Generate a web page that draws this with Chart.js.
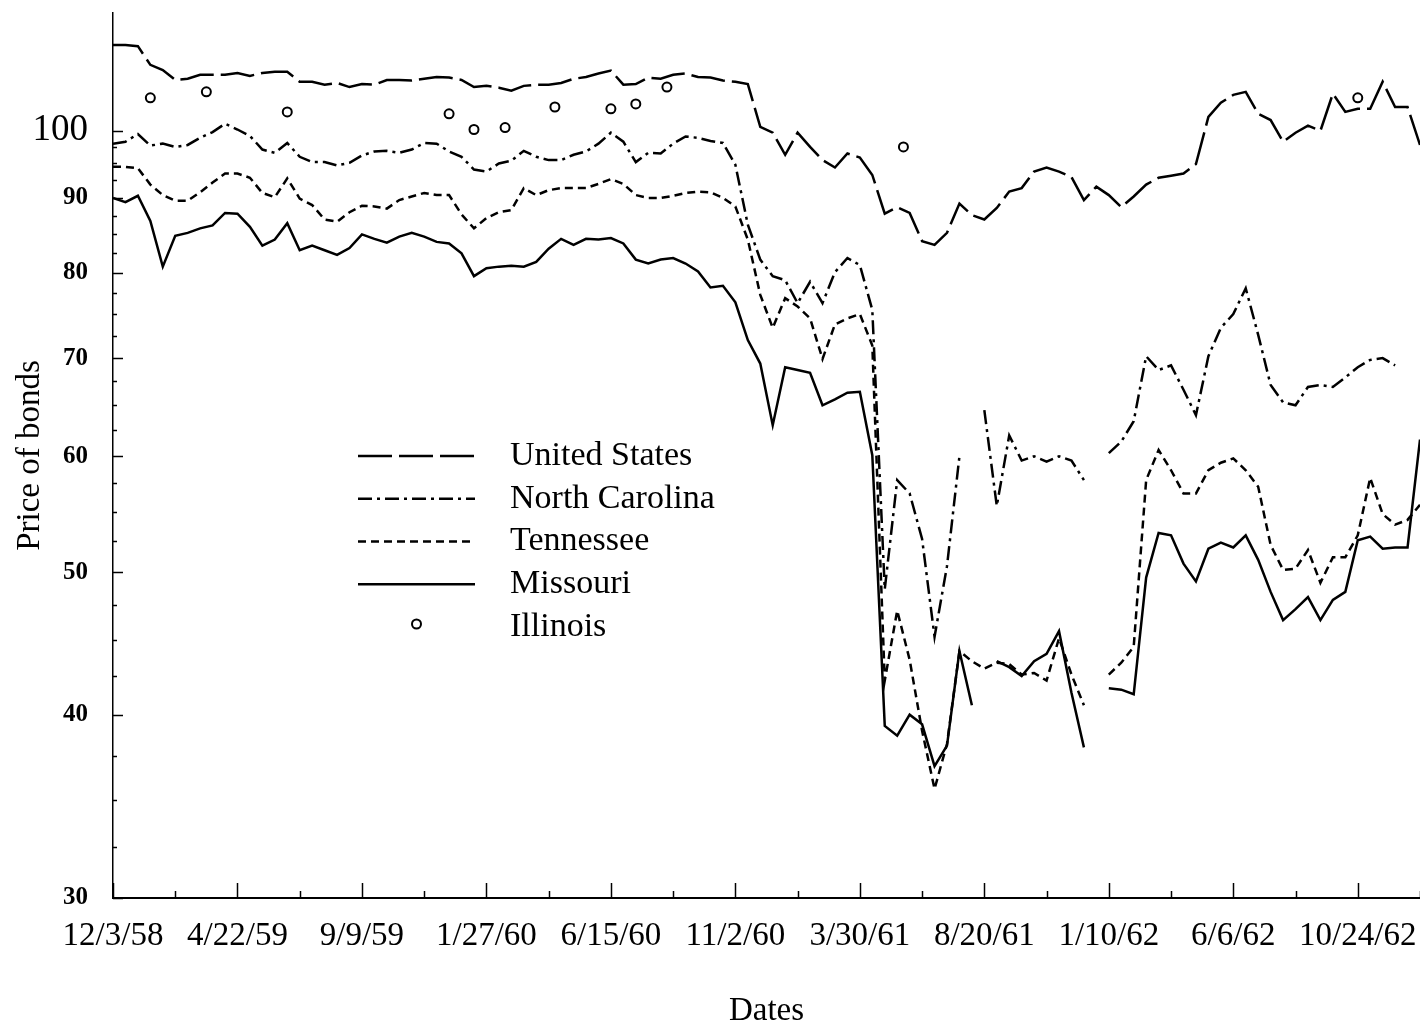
<!DOCTYPE html>
<html>
<head>
<meta charset="utf-8">
<title>Price of bonds</title>
<script src="https://cdn.jsdelivr.net/npm/chart.js@4.4.1/dist/chart.umd.min.js"></script>
<style>
  html, body { margin: 0; padding: 0; background: #fff; }
</style>
</head>
<body>
<canvas id="bondChart" width="1420" height="1028"></canvas>
<script>
// x positions are week numbers counted from 12/3/58; prices read every second week
const weekIndex = Array.from({ length: 106 }, (_, k) => 2 * k);

const dateLabels = ['12/3/58', '4/22/59', '9/9/59', '1/27/60', '6/15/60', '11/2/60',
                    '3/30/61', '8/20/61', '1/10/62', '6/6/62', '10/24/62'];
const tickWeeks = [0, 10, 20, 30, 40, 50, 60, 70, 80, 90, 100, 110, 120, 130, 140,
                   150, 160, 170, 180, 190, 200, 210];
const majorPrices = [30, 40, 50, 60, 70, 80, 90, 100];
const minorPrices = [32.5, 35, 37.5, 42.5, 45, 47.5, 52.5, 55, 57.5, 62.5, 65, 67.5,
                     72.5, 75, 77.5, 82.5, 85, 87.5, 92.5, 95, 97.5];

const usPrices = [
  114.4, 114.4, 114.2, 110.9, 110.0, 108.3, 108.5, 109.2, 109.2, 109.2,
  109.5, 109.0, 109.5, 109.7, 109.7, 108.0, 108.0, 107.5, 107.8, 107.1,
  107.6, 107.5, 108.3, 108.3, 108.2, 108.5, 108.8, 108.7, 108.3, 107.1,
  107.3, 107.0, 106.5, 107.3, 107.5, 107.5, 107.8, 108.5, 108.8, 109.4,
  109.9, 107.5, 107.6, 108.7, 108.5, 109.2, 109.4, 108.8, 108.7, 108.2,
  108.0, 107.6, 100.6, 99.7, 96.3, 99.7, 97.5, 95.5, 94.4, 96.5,
  95.9, 93.3, 87.8, 88.7, 87.9, 84.1, 83.6, 85.2, 89.2, 87.6,
  87.0, 88.6, 90.9, 91.4, 93.8, 94.4, 93.8, 93.0, 89.7, 91.6,
  90.4, 88.7, 90.2, 91.9, 92.9, 93.2, 93.5, 94.9, 102.2, 104.5,
  105.8, 106.3, 102.7, 101.7, 98.3, 99.7, 100.8, 100.0, 106.0, 103.0,
  103.5, 103.5, 108.0, 103.8, 103.8, 97.8
];

const ncPrices = [
  98.0, 98.3, 99.5, 97.7, 98.0, 97.5, 97.8, 98.9, 99.8, 101.1,
  100.2, 99.2, 97.1, 96.6, 98.1, 96.0, 95.2, 95.2, 94.7, 95.1,
  96.2, 96.8, 96.9, 96.6, 97.1, 98.1, 98.0, 96.8, 96.0, 94.1,
  93.8, 95.0, 95.4, 96.9, 96.0, 95.5, 95.5, 96.3, 96.8, 98.0,
  99.7, 98.3, 95.2, 96.6, 96.5, 98.0, 99.1, 98.9, 98.4, 98.1,
  94.8, 86.3, 81.7, 79.6, 79.1, 76.3, 78.9, 76.3, 80.1, 81.9,
  81.0, 75.5, 48.7, 57.8, 56.6, 52.7, 45.2, 50.5, 60.0, null,
  64.5, 55.5, 62.0, 59.6, 60.0, 59.5, 60.0, 59.6, 57.8, null,
  60.3, 61.4, 63.4, 70.2, 68.7, 69.2, 66.6, 64.0, 70.2, 73.4,
  75.0, 78.1, 72.6, 67.1, 65.3, 65.0, 66.9, 67.1, 66.9, 67.9,
  69.0, 69.8, 70.0, 69.2, null, null
];

const tnPrices = [
  94.5, 94.5, 94.3, 91.9, 90.4, 89.6, 89.6, 90.8, 92.2, 93.5,
  93.5, 92.9, 90.7, 90.1, 92.8, 89.9, 89.0, 87.0, 86.7, 88.0,
  88.9, 88.8, 88.5, 89.7, 90.2, 90.7, 90.4, 90.4, 87.7, 85.8,
  87.2, 88.0, 88.3, 91.4, 90.4, 91.1, 91.4, 91.4, 91.4, 92.0,
  92.7, 92.0, 90.4, 90.0, 90.0, 90.3, 90.7, 90.9, 90.8, 90.0,
  88.8, 84.3, 77.3, 73.4, 76.9, 75.9, 74.5, 69.9, 73.8, 74.5,
  75.0, 71.4, 42.2, 47.1, 43.6, 39.0, 35.6, 38.2, 44.2, 43.5,
  43.0, 43.4, 43.3, 42.6, 42.7, 42.2, 45.1, 42.6, 40.6, null,
  42.6, 43.4, 44.5, 57.8, 60.6, 58.7, 56.6, 56.6, 58.7, 59.4,
  59.8, 58.7, 57.2, 52.2, 50.2, 50.3, 51.8, 49.2, 51.2, 51.2,
  53.0, 58.0, 54.8, 53.9, 54.3, 55.6
];

const moPrices = [
  90.0, 89.4, 90.3, 86.8, 80.8, 84.8, 85.2, 85.8, 86.2, 87.9,
  87.8, 86.0, 83.5, 84.3, 86.5, 82.9, 83.5, 82.9, 82.3, 83.2,
  85.0, 84.4, 83.9, 84.7, 85.2, 84.7, 84.0, 83.8, 82.5, 79.6,
  80.6, 80.8, 80.9, 80.8, 81.4, 83.1, 84.4, 83.6, 84.4, 84.3,
  84.5, 83.8, 81.7, 81.2, 81.7, 81.9, 81.2, 80.2, 78.2, 78.4,
  76.4, 72.0, 69.4, 63.0, 69.0, 68.7, 68.4, 65.0, 65.6, 66.3,
  66.4, 60.1, 39.3, 38.7, 40.0, 39.4, 36.9, 38.1, 44.2, 40.6,
  null, 43.5, 43.1, 42.5, 43.5, 44.0, 45.6, 41.4, 38.0, null,
  41.7, 41.6, 41.3, 49.6, 53.2, 53.0, 50.7, 49.3, 51.9, 52.4,
  52.0, 53.0, 51.0, 48.5, 46.4, 47.2, 48.1, 46.4, 47.9, 48.5,
  52.6, 52.9, 51.9, 52.0, 52.0, 61.6
];

// Illinois is only quoted now and then
const illinoisWeeks = [6, 15, 28, 54, 58, 63, 71, 80, 84, 89, 127, 200];
const illinoisPrices = [105.3, 106.3, 103.0, 102.7, 100.2, 100.5, 103.8, 103.5, 104.3, 107.1, 97.5, 105.3];

const serif = '"Liberation Serif", "Times New Roman", serif';

function series(prices) {
    return weekIndex.map((w, k) => ({ x: w, y: prices[k] }));
}

function lineSet(label, prices, dash) {
    return {
        label: label,
        data: series(prices),
        borderColor: '#000',
        borderWidth: 2.5,
        borderDash: dash,
        pointRadius: 0,
        fill: false,
        tension: 0,
        spanGaps: false
    };
}

// tick marks point into the plot, so they are drawn here instead of by the grid
const inwardTicks = {
    id: 'inwardTicks',
    afterDraw(chart) {
        const { ctx, chartArea, scales: { x, y } } = chart;
        ctx.save();
        ctx.strokeStyle = '#000';
        ctx.lineWidth = 1.5;
        y.ticks.forEach(t => {
            const py = Math.round(y.getPixelForValue(t.value)) + 0.5;
            const len = majorPrices.includes(t.value) ? 10 : 4;
            ctx.beginPath();
            ctx.moveTo(chartArea.left, py);
            ctx.lineTo(chartArea.left + len, py);
            ctx.stroke();
        });
        x.ticks.forEach(t => {
            const px = Math.round(x.getPixelForValue(t.value)) + 0.5;
            const len = t.value % 20 === 0 ? 15 : 7;
            ctx.beginPath();
            ctx.moveTo(px, chartArea.bottom);
            ctx.lineTo(px, chartArea.bottom - len);
            ctx.stroke();
        });
        ctx.restore();
    }
};

// legend sits inside the plot, left of the big drop
const innerLegend = {
    id: 'innerLegend',
    afterDraw(chart, args, opts) {
        const ctx = chart.ctx;
        ctx.save();
        ctx.font = '34px ' + serif;
        ctx.fillStyle = '#000';
        ctx.textBaseline = 'middle';
        chart.data.datasets.forEach((ds, i) => {
            const rowY = opts.top + i * opts.rowGap;
            if (ds.showLine === false) {
                ctx.beginPath();
                ctx.lineWidth = ds.pointBorderWidth;
                ctx.strokeStyle = '#000';
                ctx.arc(opts.left + opts.sampleWidth / 2, rowY - 3, ds.pointRadius, 0, Math.PI * 2);
                ctx.stroke();
            } else {
                ctx.beginPath();
                ctx.lineWidth = ds.borderWidth;
                ctx.strokeStyle = ds.borderColor;
                ctx.setLineDash(ds.borderDash);
                ctx.moveTo(opts.left, rowY);
                ctx.lineTo(opts.left + opts.sampleWidth, rowY);
                ctx.stroke();
                ctx.setLineDash([]);
            }
            ctx.fillText(ds.label, opts.textX, rowY);
        });
        ctx.restore();
    }
};

const chart = new Chart(document.getElementById('bondChart').getContext('2d'), {
    type: 'line',
    data: {
        datasets: [
            lineSet('United States', usPrices, [34, 7]),
            lineSet('North Carolina', ncPrices, [14, 5, 3, 5]),
            lineSet('Tennessee', tnPrices, [8, 5]),
            lineSet('Missouri', moPrices, []),
            {
                label: 'Illinois',
                data: illinoisWeeks.map((w, k) => ({ x: w, y: illinoisPrices[k] })),
                showLine: false,
                pointStyle: 'circle',
                pointRadius: 4.5,
                pointBorderWidth: 2,
                pointBorderColor: '#000',
                pointBackgroundColor: 'rgba(255,255,255,0)'
            }
        ]
    },
    options: {
        responsive: false,
        animation: false,
        events: [],
        layout: { autoPadding: false, padding: { top: 13, right: 0, left: 0, bottom: 0 } },
        plugins: {
            legend: { display: false },
            tooltip: { enabled: false },
            innerLegend: { left: 358, top: 456, rowGap: 42.75, sampleWidth: 117, textX: 510 }
        },
        scales: {
            x: {
                type: 'linear',
                min: 0,
                max: 210,
                afterFit: (s) => {
                    s.height = 130;
                    s.paddingLeft = 0;
                    s.paddingRight = 0;
                },
                afterBuildTicks: (s) => { s.ticks = tickWeeks.map(v => ({ value: v })); },
                grid: { display: false },
                border: { display: true, color: '#000', width: 2 },
                ticks: {
                    autoSkip: false,
                    maxRotation: 0,
                    padding: 11,
                    color: '#000',
                    font: { family: serif, size: 33 },
                    callback: (v) => (v % 20 === 0 ? dateLabels[v / 20] : '')
                },
                title: {
                    display: true,
                    text: 'Dates',
                    color: '#000',
                    font: { family: serif, size: 33, lineHeight: 1 },
                    padding: { top: 0, bottom: 0 }
                }
            },
            y: {
                type: 'logarithmic',
                min: 30,
                max: 120.3,
                afterFit: (s) => {
                    s.width = 113;
                    s.paddingTop = 0;
                    s.paddingBottom = 0;
                },
                afterBuildTicks: (s) => {
                    s.ticks = majorPrices.concat(minorPrices).sort((a, b) => a - b).map(v => ({ value: v }));
                },
                grid: { display: false },
                border: { display: true, color: '#000', width: 1.5 },
                ticks: {
                    autoSkip: false,
                    padding: 17,
                    color: '#000',
                    font: (c) => (c.tick && c.tick.value === 100
                        ? { family: serif, size: 37 }
                        : { family: serif, size: 25, weight: 'bold' }),
                    callback: (v) => (majorPrices.includes(v) ? String(v) : '')
                },
                title: {
                    display: true,
                    text: 'Price of bonds',
                    color: '#000',
                    font: { family: serif, size: 33, lineHeight: 1 },
                    padding: { top: 14, bottom: 0 }
                }
            }
        }
    },
    plugins: [inwardTicks, innerLegend]
});
</script>
</body>
</html>
